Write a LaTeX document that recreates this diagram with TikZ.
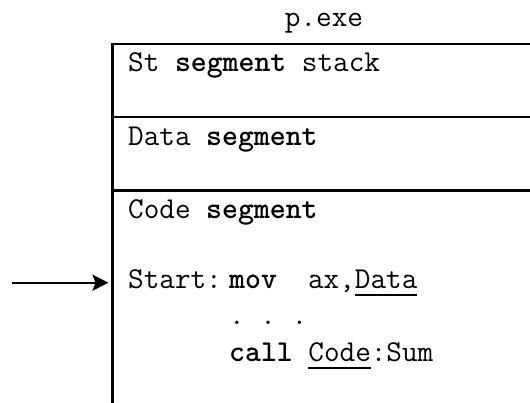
\documentclass[tikz,border=0pt]{standalone}
\usepackage{fontspec}
\usetikzlibrary{arrows.meta}
\newcommand{\myul}[1]{\setbox0\hbox{#1}\rlap{\raisebox{-7.5pt}{\rule{\wd0}{2pt}}}\box0}
\tikzset{
  code/.style={inner sep=0pt, anchor=base west, font=\fontsize{30.3}{34}\ttfamily},
  frame/.style={line width=2.5pt},
  pointer/.style={line width=2pt, -{Stealth[length=16pt,width=16pt,inset=3pt]}}
}
\begin{document}
\begin{tikzpicture}[x=1pt,y=-1pt]
\useasboundingbox (0,0) rectangle (530,403);
% frame
\draw[frame] (540,44) -- (112.5,44) -- (112.5,410);
\draw[frame] (112.5,117) -- (540,117);
\draw[frame] (112.5,190.5) -- (540,190.5);
% title
\node[code, anchor=base] (title) at (324,27) {p.exe};
% texts
\node[code] (stack) at (128,72) {St \textbf{segment} stack};
\node[code] (data) at (128,145.5) {Data \textbf{segment}};
\node[code] (codeseg) at (128,219) {Code \textbf{segment}};
\node[code] (start) at (128,288.7) {Start:};
\node[code] (mov) at (229,288.7) {\textbf{mov}\ \ ax,\myul{Data}};
\node[code] (dots) at (229,324) {.\ .\ .};
\node[code] (call) at (229,361) {\textbf{call} \myul{Code}:Sum};
% arrow
\coordinate (ptail) at (12,282.7);
\coordinate (phead) at (108.5,282.7);
\draw[pointer] (ptail) -- (phead);
\end{tikzpicture}
\end{document}
